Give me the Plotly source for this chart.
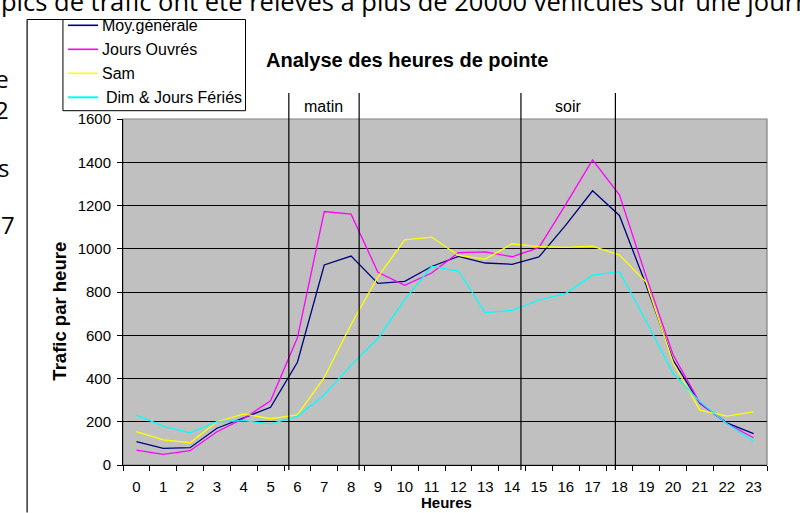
import plotly.graph_objects as go

hours = [str(h) for h in range(24)]
moy_generale = [108, 77, 80, 170, 218, 267, 475, 925, 966, 840, 849, 918, 965, 934, 928, 962, 1109, 1268, 1154, 830, 485, 285, 195, 145]
jours_ouvres = [69, 49, 66, 154, 215, 297, 588, 1172, 1160, 891, 831, 888, 982, 986, 963, 1005, 1205, 1411, 1249, 870, 510, 288, 192, 126]
samedi = [154, 116, 103, 200, 236, 214, 232, 405, 650, 870, 1041, 1054, 969, 952, 1023, 1010, 1006, 1012, 971, 845, 473, 254, 226, 246]
dimanche = [231, 180, 149, 200, 205, 190, 225, 324, 462, 585, 765, 918, 897, 705, 715, 763, 794, 878, 894, 665, 423, 293, 192, 110]

series_names = ["Moy.générale", "Jours Ouvrés", "Sam", "Dim & Jours Fériés"]
series_values = [moy_generale, jours_ouvres, samedi, dimanche]
series_colors = ["#000080", "#FF00FF", "#FFFF00", "#00FFFF"]

y_ticks = [0, 200, 400, 600, 800, 1000, 1200, 1400, 1600]
period_bounds = [5.68, 8.30, 14.33, 17.85]
period_labels = [("matin", 6.99), ("soir", 16.09)]

W, H = 800, 513
L, R, T, B = 123.3, 766.7, 119, 465
def px(x):
    return (x - L) / (R - L)
def py(y):
    return (B - y) / (B - T)

FONT = "Liberation Sans, Arial, sans-serif"
DOC_FONT = "Open Sans, sans-serif"

fig = go.Figure()
for name, vals, col in zip(series_names, series_values, series_colors):
    fig.add_trace(go.Scatter(x=hours, y=vals, mode="lines", name=name,
                             line=dict(color=col, width=1.3), showlegend=False))

shapes = []
for xb in period_bounds:
    shapes.append(dict(type="line", xref="x", yref="paper", x0=xb, x1=xb,
                       y0=py(470), y1=py(93), line=dict(color="black", width=1.2), layer="above"))
shapes.append(dict(type="rect", xref="paper", yref="paper", x0=0, x1=1, y0=0, y1=1,
                   line=dict(color="#808080", width=1.2), layer="below"))
# chart object frame (left edge and top fragment)
shapes.append(dict(type="line", xref="paper", yref="paper", x0=px(27.5), x1=px(27.5), y0=py(512.5), y1=py(19.5),
                   line=dict(color="black", width=1.2), layer="above"))
shapes.append(dict(type="line", xref="paper", yref="paper", x0=px(27.5), x1=px(63.3), y0=py(19.5), y1=py(19.5),
                   line=dict(color="black", width=1.2), layer="above"))
shapes.append(dict(type="rect", xref="paper", yref="paper", x0=px(63.3), x1=px(245.7), y0=py(110.7), y1=py(19.5),
                   line=dict(color="black", width=1), fillcolor="white"))

annotations = []
rows = [25.3, 49.3, 73.3, 97.3]
for name, col, yr in zip(series_names, series_colors, rows):
    shapes.append(dict(type="line", xref="paper", yref="paper", x0=px(68.3), x1=px(98.3), y0=py(yr), y1=py(yr),
                       line=dict(color=col, width=1.6 if col != "#00FFFF" else 2)))
    annotations.append(dict(text=name, xref="paper", yref="paper", x=px(100 if name != "Dim & Jours Fériés" else 104),
                            y=py(yr), xanchor="left", yanchor="middle", showarrow=False,
                            font=dict(family=FONT, size=16, color="black")))

for lab, xc in period_labels:
    annotations.append(dict(text=lab, xref="x", yref="paper", x=xc, y=py(107), xanchor="center", yanchor="middle",
                            showarrow=False, font=dict(family=FONT, size=16, color="black")))

annotations.append(dict(text="<b>Analyse des heures de pointe</b>", xref="paper", yref="paper",
                        x=px(407.5), y=py(60), xanchor="center", yanchor="middle", showarrow=False,
                        font=dict(family=FONT, size=20, color="black")))
annotations.append(dict(text="<b>Trafic par heure</b>", xref="paper", yref="paper", textangle=-90,
                        x=px(59), y=py(311), xanchor="center", yanchor="middle", showarrow=False,
                        font=dict(family=FONT, size=18.5, color="black")))
annotations.append(dict(text="<b>Heures</b>", xref="paper", yref="paper",
                        x=px(446), y=py(503), xanchor="center", yanchor="middle", showarrow=False,
                        font=dict(family=FONT, size=15, color="black")))
annotations.append(dict(text="pics de trafic ont été relevés à plus de 20000 véhicules sur une journée",
                        xref="paper", yref="paper", x=px(-1), y=py(1), xanchor="left", yanchor="middle",
                        showarrow=False, font=dict(family=DOC_FONT, size=25.5, color="black")))
# cut-off ends of the surrounding document's lines
for txt, xx, yy in [("e<br>2", 11, 94), ("s", 11, 167), ("7", 17, 224)]:
    annotations.append(dict(text=txt, xref="paper", yref="paper", x=px(xx), y=py(yy), xanchor="right",
                            yanchor="middle", align="right", showarrow=False,
                            font=dict(family=DOC_FONT, size=24, color="black")))

fig.update_layout(
    width=W, height=H,
    margin=dict(l=L, r=W - R, t=T, b=H - B, pad=0),
    paper_bgcolor="white", plot_bgcolor="#C0C0C0",
    showlegend=False,
    shapes=shapes, annotations=annotations,
    font=dict(family=FONT, size=14, color="black"),
    xaxis=dict(type="category", categoryorder="array", categoryarray=hours,
               tickson="boundaries", ticks="outside", ticklen=5, tickcolor="black",
               showgrid=False, showline=True, linecolor="black", linewidth=1,
               tickfont=dict(family=FONT, size=15), ticklabelstandoff=8, range=[-0.5, 23.5]),
    yaxis=dict(range=[0, 1600], tickvals=y_ticks, ticks="outside", ticklen=5, tickcolor="black",
               showgrid=True, gridcolor="black", gridwidth=1, zeroline=False,
               showline=True, linecolor="black", linewidth=1,
               tickfont=dict(family=FONT, size=15), ticklabelstandoff=3),
)

fig.write_html("out.html", config={"displayModeBar": False},
               post_script="document.body.style.margin='0px';document.body.style.padding='0px';document.body.style.overflow='hidden';")
